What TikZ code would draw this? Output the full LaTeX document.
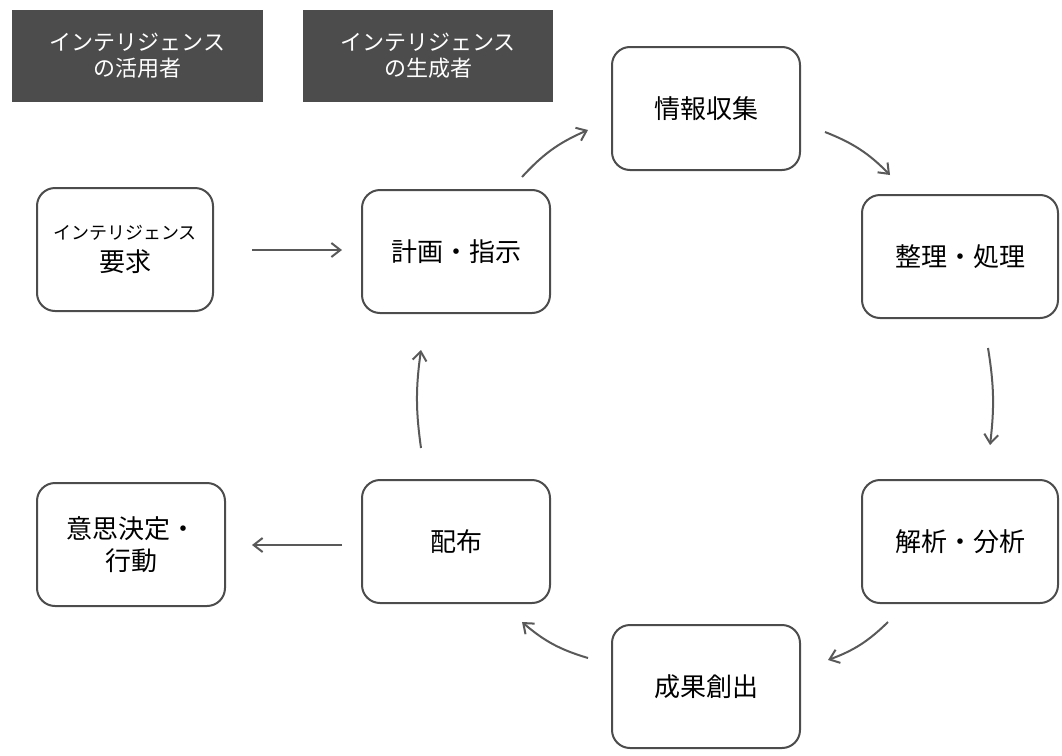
\documentclass[tikz,border=0pt]{standalone}
\usepackage{fontspec}
\setmainfont{Noto Sans CJK JP}
\usetikzlibrary{arrows.meta}
\begin{document}
\begin{tikzpicture}[x=1pt,y=-1pt,
 box/.style={draw=black!70,line width=2pt,rounded corners=18pt,fill=white,align=center,font=\fontsize{26}{32}\selectfont},
 hdr/.style={fill=black!70,text=white,align=center,font=\fontsize{22}{26}\selectfont,inner sep=0pt},
 arr/.style={draw=black!65,line width=2pt,-{Straight Barb[length=9pt,width=14pt]}}]
\useasboundingbox (0,0) rectangle (1062,755);
\node[hdr,minimum width=251pt,minimum height=92pt] (h1) at (137.5,56) {インテリジェンス\\の活用者};
\node[hdr,minimum width=250pt,minimum height=92pt] (h2) at (428,56) {インテリジェンス\\の生成者};
\newcommand{\bx}[6]{\node[box,minimum width=#4pt,minimum height=#5pt] (#1) at (#2,#3) {#6};}
\bx{a}{706}{108.5}{188}{123}{情報収集}
\bx{b}{960}{256.5}{196}{123}{整理・処理}
\bx{c}{960}{541.5}{196}{123}{解析・分析}
\bx{d}{706}{686.5}{188}{123}{成果創出}
\bx{e}{456}{541.5}{188}{123}{配布}
\bx{f}{456}{251.5}{188}{123}{計画・指示}
\bx{g}{125}{249.5}{176}{123}{{\fontsize{18}{22}\selectfont インテリジェンス}\\要求}
\bx{h}{131}{544.5}{188}{123}{意思決定・\\行動}
\coordinate (p1) at (522,177); \coordinate (p2) at (588,130);
\coordinate (q1) at (825,132); \coordinate (q2) at (890,175);
\coordinate (r1) at (988,348); \coordinate (r2) at (990,445);
\coordinate (s1) at (888,622); \coordinate (s2) at (828,660);
\coordinate (t1) at (588,658); \coordinate (t2) at (522,622);
\coordinate (u1) at (421,448); \coordinate (u2) at (421,350);
\coordinate (v1) at (252,250); \coordinate (v2) at (342,250);
\coordinate (w1) at (342,545); \coordinate (w2) at (252,545);
\draw[arr] (p1) to[bend left=12] (p2);
\draw[arr] (q1) to[bend left=12] (q2);
\draw[arr] (r1) to[bend left=8] (r2);
\draw[arr] (s1) to[bend left=12] (s2);
\draw[arr] (t1) to[bend left=12] (t2);
\draw[arr] (u1) to[bend left=8] (u2);
\draw[arr] (v1) -- (v2);
\draw[arr] (w1) -- (w2);
\end{tikzpicture}
\end{document}
